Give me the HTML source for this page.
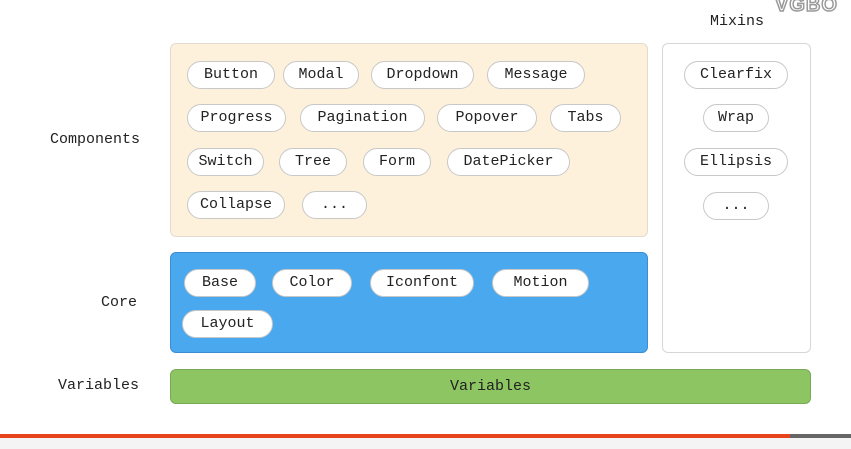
<!DOCTYPE html>
<html><head><meta charset="utf-8"><style>
body{margin:0;width:851px;height:449px;background:#fff;position:relative;overflow:hidden;font-family:"Liberation Mono",monospace;font-size:15px;color:#222}
.a{position:absolute;box-sizing:border-box}
.box{border-radius:6px}
.p{position:absolute;box-sizing:border-box;height:28px;line-height:26px;border:1px solid #c8c8c8;border-radius:14px;background:#fff;text-align:center;color:#222}
.l{position:absolute;line-height:20px}
</style></head><body>
<div class="a" style="left:775px;top:-6px;font:bold 20px 'Liberation Sans',sans-serif;color:#fff;-webkit-text-stroke:1.5px #999;letter-spacing:1px">VGBO</div>
<div class="l" style="left:710px;top:12px">Mixins</div>
<div class="l" style="left:50px;top:130px">Components</div>
<div class="l" style="left:101px;top:293px">Core</div>
<div class="l" style="left:58px;top:376px">Variables</div>

<div class="a box" style="left:170px;top:43px;width:478px;height:194px;background:#fdf1dc;border:1px solid #e3dccd"></div>
<div class="a box" style="left:170px;top:252px;width:478px;height:101px;background:#4aa8ee;border:1px solid #3a8dd0"></div>
<div class="a box" style="left:662px;top:43px;width:149px;height:310px;background:#fff;border:1px solid #d6d6d6"></div>
<div class="a box" style="left:170px;top:369px;width:641px;height:35px;background:#8dc563;border:1px solid #79a956;text-align:center;line-height:33px">Variables</div>

<div class="p" style="left:187px;top:61px;width:88px">Button</div>
<div class="p" style="left:283px;top:61px;width:76px">Modal</div>
<div class="p" style="left:371px;top:61px;width:103px">Dropdown</div>
<div class="p" style="left:487px;top:61px;width:98px">Message</div>

<div class="p" style="left:187px;top:104px;width:99px">Progress</div>
<div class="p" style="left:300px;top:104px;width:125px">Pagination</div>
<div class="p" style="left:437px;top:104px;width:100px">Popover</div>
<div class="p" style="left:550px;top:104px;width:71px">Tabs</div>

<div class="p" style="left:187px;top:148px;width:77px">Switch</div>
<div class="p" style="left:279px;top:148px;width:68px">Tree</div>
<div class="p" style="left:363px;top:148px;width:68px">Form</div>
<div class="p" style="left:447px;top:148px;width:123px">DatePicker</div>

<div class="p" style="left:187px;top:191px;width:98px">Collapse</div>
<div class="p" style="left:302px;top:191px;width:65px">...</div>

<div class="p" style="left:184px;top:269px;width:72px">Base</div>
<div class="p" style="left:272px;top:269px;width:80px">Color</div>
<div class="p" style="left:370px;top:269px;width:104px">Iconfont</div>
<div class="p" style="left:492px;top:269px;width:97px">Motion</div>
<div class="p" style="left:182px;top:310px;width:91px">Layout</div>

<div class="p" style="left:684px;top:61px;width:104px">Clearfix</div>
<div class="p" style="left:703px;top:104px;width:66px">Wrap</div>
<div class="p" style="left:684px;top:148px;width:104px">Ellipsis</div>
<div class="p" style="left:703px;top:192px;width:66px">...</div>

<div class="a" style="left:0;top:434px;width:790px;height:4px;background:#e8441c"></div>
<div class="a" style="left:790px;top:434px;width:61px;height:4px;background:#666"></div>
<div class="a" style="left:0;top:438px;width:851px;height:11px;background:#f4f4f4"></div>
</body></html>
